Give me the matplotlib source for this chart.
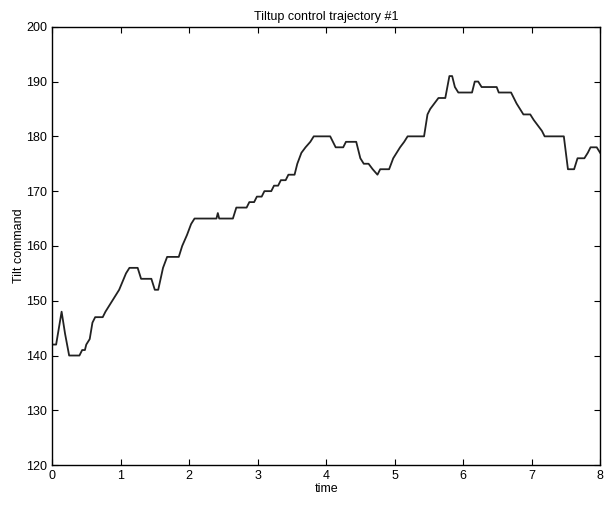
import matplotlib
matplotlib.use("Agg")
import matplotlib.pyplot as plt

# tilt command samples (time, value)
time = [0.00, 0.06, 0.14, 0.19, 0.25, 0.40, 0.44, 0.48, 0.50, 0.55, 0.59, 0.63,
        0.74, 0.78, 0.83, 0.88, 0.93, 0.98, 1.08, 1.13, 1.25, 1.30, 1.45, 1.50,
        1.55, 1.62, 1.68, 1.85, 1.90, 1.97, 2.03, 2.08, 2.40, 2.42, 2.44, 2.64,
        2.69, 2.84, 2.88, 2.95, 2.99, 3.06, 3.10, 3.20, 3.24, 3.30, 3.34, 3.41,
        3.45, 3.54, 3.58, 3.64, 3.70, 3.77, 3.82, 4.06, 4.14, 4.25, 4.29, 4.44,
        4.50, 4.55, 4.62, 4.68, 4.75, 4.79, 4.92, 4.98, 5.03, 5.08, 5.14, 5.19,
        5.43, 5.48, 5.52, 5.58, 5.64, 5.74, 5.80, 5.84, 5.88, 5.93, 6.13, 6.17,
        6.22, 6.27, 6.49, 6.52, 6.70, 6.74, 6.78, 6.83, 6.88, 6.98, 7.03, 7.09,
        7.15, 7.19, 7.47, 7.53, 7.62, 7.67, 7.77, 7.82, 7.86, 7.95, 8.00]
tilt = [142, 142, 148, 144, 140, 140, 141, 141, 142, 143, 146, 147,
        147, 148, 149, 150, 151, 152, 155, 156, 156, 154, 154, 152,
        152, 156, 158, 158, 160, 162, 164, 165, 165, 166, 165, 165,
        167, 167, 168, 168, 169, 169, 170, 170, 171, 171, 172, 172,
        173, 173, 175, 177, 178, 179, 180, 180, 178, 178, 179, 179,
        176, 175, 175, 174, 173, 174, 174, 176, 177, 178, 179, 180,
        180, 184, 185, 186, 187, 187, 191, 191, 189, 188, 188, 190,
        190, 189, 189, 188, 188, 187, 186, 185, 184, 184, 183, 182,
        181, 180, 180, 174, 174, 176, 176, 177, 178, 178, 177]

plt.rcParams['font.family'] = ['Liberation Sans', 'DejaVu Sans']

fig = plt.figure(figsize=(6.07, 5.05), dpi=100)
ax = fig.add_axes([0.0857, 0.079, 0.903, 0.868])
ax.plot(time, tilt, color='#222222', linewidth=1.3)

ax.set_xlim(0, 8)
ax.set_ylim(120, 200)
ax.set_xticks(range(0, 9))
ax.set_yticks(range(120, 201, 10))
ax.tick_params(direction='in', top=True, right=True, labelsize=9, length=4, width=0.8)
for s in ax.spines.values():
    s.set_linewidth(1.0)

ax.set_title('Tiltup control trajectory #1', fontsize=9, pad=5)
ax.set_xlabel('time', fontsize=9, labelpad=1)
ax.set_ylabel('Tilt command', fontsize=9, labelpad=1)

fig.savefig('out.png', dpi=100)
